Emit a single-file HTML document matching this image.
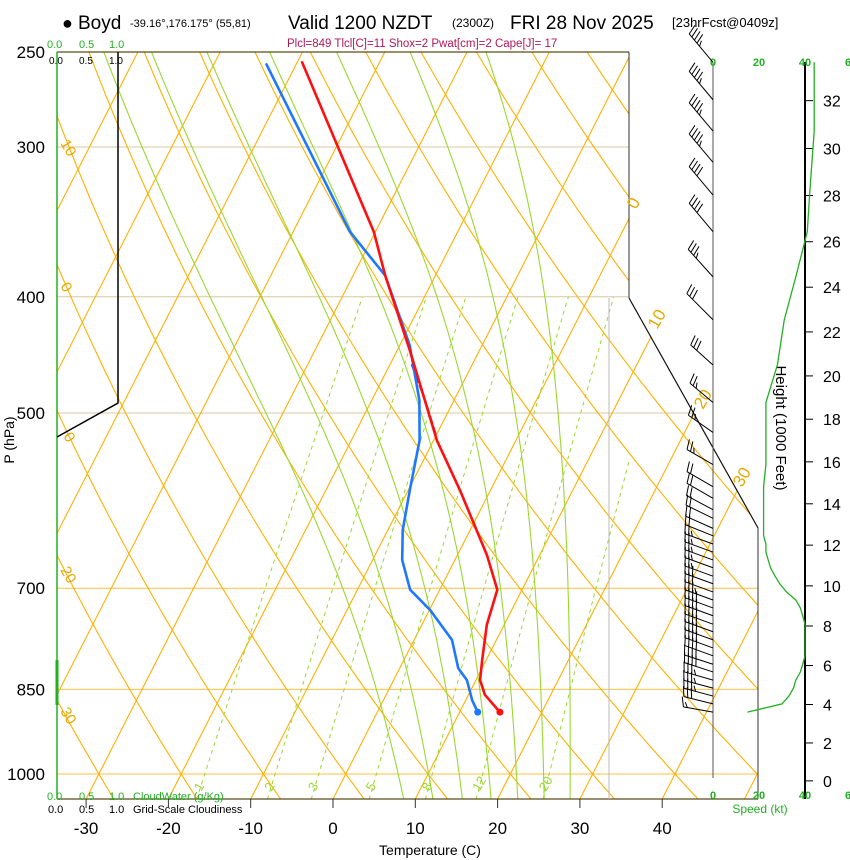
<!DOCTYPE html>
<html><head><meta charset="utf-8">
<style>
body{margin:0;background:#fff;}
svg{display:block;font-family:"Liberation Sans",Arial,sans-serif;}
</style></head>
<body>
<svg id="chart" width="850" height="860" viewBox="0 0 850 860" xmlns="http://www.w3.org/2000/svg">
<defs>
<clipPath id="bg"><polygon points="57,52 629,52 629,298 758,528 758,799 57,799"/></clipPath>
<clipPath id="main"><rect x="57" y="52" width="572" height="747"/></clipPath>
</defs>
<g id="grid" clip-path="url(#bg)"></g>
<g id="mgrid" clip-path="url(#main)"></g>
<g id="frame">
 <line x1="57" y1="52" x2="629" y2="52" stroke="#5a4a1a" stroke-width="1.2"/>
 <line x1="57" y1="799" x2="758" y2="799" stroke="#5a4a1a" stroke-width="1.2"/>
 <line x1="629" y1="52" x2="629" y2="298" stroke="#333" stroke-width="1"/>
 <line x1="629" y1="298" x2="758" y2="528" stroke="#111" stroke-width="1.2"/>
 <line x1="758" y1="528" x2="758" y2="799" stroke="#333" stroke-width="1"/>
 <line x1="57" y1="52" x2="57" y2="799" stroke="#22b022" stroke-width="1.5"/>
 <line x1="57" y1="660" x2="57" y2="705" stroke="#22b022" stroke-width="3"/>
 <polyline points="118,52 118,403 57,437" fill="none" stroke="#000" stroke-width="1.5"/>
 <line x1="713" y1="62" x2="713" y2="778" stroke="#555" stroke-width="1"/>
 <line x1="805" y1="62" x2="805" y2="799" stroke="#000" stroke-width="2"/>
 <line x1="609" y1="298" x2="609" y2="799" stroke="#bbb" stroke-width="1"/>
</g>
<g id="labels">
 <text x="62" y="29" font-size="18">●</text>
 <text x="78" y="29" font-size="19">Boyd</text>
 <text x="130" y="27" font-size="11">-39.16°,176.175° (55,81)</text>
 <text x="288" y="29" font-size="19">Valid 1200 NZDT</text>
 <text x="452" y="27" font-size="12">(2300Z)</text>
 <text x="510" y="29" font-size="19">FRI 28 Nov 2025</text>
 <text x="672" y="27" font-size="13">[23hrFcst@0409z]</text>
 <text x="287" y="47" font-size="11.5" fill="#b0185a">Plcl=849 Tlcl[C]=11 Shox=2 Pwat[cm]=2 Cape[J]= 17</text>
 <g font-size="11" fill="#22b022"><text x="47" y="48">0.0</text><text x="79" y="48">0.5</text><text x="109" y="48">1.0</text></g>
 <g font-size="10" fill="#000"><text x="49" y="64">0.0</text><text x="79" y="64">0.5</text><text x="109" y="64">1.0</text></g>
 <g font-size="11" fill="#22b022"><text x="47" y="800">0.0</text><text x="79" y="800">0.5</text><text x="109" y="800">1.0</text><text x="133" y="800">CloudWater (g/Kg)</text></g>
 <g font-size="11" fill="#000"><text x="48" y="813">0.0</text><text x="79" y="813">0.5</text><text x="109" y="813">1.0</text><text x="133" y="813">Grid-Scale Cloudiness</text></g>
 <text x="430" y="855" font-size="14" text-anchor="middle">Temperature (C)</text>
 <text transform="translate(14,440) rotate(-90)" font-size="14" text-anchor="middle">P (hPa)</text>
 <text transform="translate(776,428) rotate(90)" font-size="15" text-anchor="middle">Height (1000 Feet)</text>
 <text x="760" y="813" font-size="12" fill="#22b022" text-anchor="middle">Speed (kt)</text>
 <g font-size="11" font-weight="bold" fill="#22b022" text-anchor="middle">
  <text x="713" y="66">0</text><text x="759" y="66">20</text><text x="805" y="66">40</text><text x="848" y="66">6</text>
  <text x="713" y="799">0</text><text x="759" y="799">20</text><text x="805" y="799">40</text><text x="848" y="799">6</text>
 </g>
 <g font-size="15" fill="#e6a800">
  <text transform="translate(60,143) rotate(60)">10</text>
  <text transform="translate(60,286) rotate(60)">0</text>
  <text transform="translate(63,436) rotate(60)">0</text>
  <text transform="translate(60,570) rotate(60)">20</text>
  <text transform="translate(60,711) rotate(60)">30</text>
 </g>
 <g font-size="17" fill="#e6a800">
  <text transform="translate(636,210) rotate(-60)">0</text>
  <text transform="translate(657,330) rotate(-60)">10</text>
  <text transform="translate(703,410) rotate(-60)">20</text>
  <text transform="translate(742,488) rotate(-60)">30</text>
 </g>
</g>
<g id="axes"></g>
<g id="profiles"></g>
<g id="winds"></g>
</svg>
<script>
// ---- data ----
const pressureTicks = [250, 300, 400, 500, 700, 850, 1000];
const tempTicks = [-30, -20, -10, 0, 10, 20, 30, 40];
const heightTicks = [0, 2, 4, 6, 8, 10, 12, 14, 16, 18, 20, 22, 24, 26, 28, 30, 32];
const mixRatios = [1, 2, 3, 5, 8, 12, 20];
const moistT488 = [-33.6, -27.5, -21.0, -14.5, -8.5, -2.8, 2.5];
const tempP = [255, 353, 384, 443, 527, 580, 657, 702, 751, 803, 835, 859, 888];
const tempT = [-49.4, -30.2, -26.1, -18.5, -9.6, -3.7, 3.6, 7.0, 7.9, 9.5, 10.5, 12.0, 14.9];
const dewP = [256, 353, 384, 439, 488, 527, 580, 626, 663, 702, 730, 773, 816, 835, 868, 888];
const dewT = [-53.6, -33.1, -26.1, -18.8, -14.2, -11.7, -9.8, -8.2, -6.4, -3.6, 0.1, 4.6, 7.1, 8.9, 10.8, 12.2];
const parcelP = [456, 488, 524];
const parcelT = [-17.3, -13.5, -9.8];
const windP = [255,274,291,309,329,353,385,418,456,490,519,552,576,589,602,612,624,633,643,653,663,673,684,694,705,716,727,738,750,761,773,785,797,810,822,835,848,861,874,888];
const windSpd = [44,44,44,43,42,41,36,31,28,23,23,23,22,22,22,22,22,22,23,23,24,25,27,29,32,36,38,39,40,40,40,40,40,39,38,36,35,33,30,15];
const windDir = [320,320,320,320,320,320,318,315,312,310,305,300,300,300,298,296,294,292,290,290,290,290,290,290,290,290,290,290,290,290,290,290,290,288,288,286,285,285,284,280];

// ---- scales ----
const NS='http://www.w3.org/2000/svg';
function yP(p){return 774-520.8*Math.log(1000/p);}
function xT(T,y){return 333+8.23*T+0.51*(799-y);}
function mk(parent,tag,attrs){const e=document.createElementNS(NS,tag);for(const k in attrs)e.setAttribute(k,attrs[k]);parent.appendChild(e);return e;}
const grid=document.getElementById('grid'), mgrid=document.getElementById('mgrid'), axes=document.getElementById('axes');

pressureTicks.forEach(p=>{
  const y=yP(p);
  const strong = p>=700;
  const l=mk(grid,'line',{x1:57,y1:y,x2:758,y2:y,stroke:strong?'#ffc040':'#d8c8a0','stroke-width':1});
  
  
  const t=mk(axes,'text',{x:45,y:y+6,'font-size':17,'text-anchor':'end'});
  t.textContent=p;
  
  
});
for(let T=-130;T<=60;T+=10){
  const l=mk(grid,'line',{x1:xT(T,799),y1:799,x2:xT(T,52),y2:52,stroke:'#ffb000','stroke-width':1.1});
  
  
}
for(let th=-40;th<=180;th+=10){
  let pts=[];
  for(let p=1060;p>=240;p-=10){const T=(th+273.15)*Math.pow(p/1000,0.286)-273.15;const y=yP(p);pts.push(xT(T,y).toFixed(1)+','+y.toFixed(1));}
  const l=mk(grid,'polyline',{points:pts.join(' '),fill:'none',stroke:'#ffb000','stroke-width':1.1});
  
  
}
function es(T){return 6.112*Math.exp(17.67*T/(T+243.5));}
function rs(T,p){const e=es(T);return 0.622*e/(p-e);}
function dTdp(T,p){const r=rs(T-273.15,p), Lv=2.5e6, Rd=287, cp=1005;return (1/p)*(Rd*T+Lv*r)/(cp+Lv*Lv*r*0.622/(Rd*T*T));}
moistT488.forEach(T0=>{
  let up=[], dn=[];
  let T=T0+273.15, p=488;
  while(p>=240){const y=yP(p);up.push(xT(T-273.15,y).toFixed(1)+','+y.toFixed(1));T-=dTdp(T,p)*4;p-=4;}
  T=T0+273.15; p=488;
  while(p<=1064){T+=dTdp(T,p)*4;p+=4;const y=yP(p);dn.push(xT(T-273.15,y).toFixed(1)+','+y.toFixed(1));}
  const pts=up.reverse().concat(dn);
  const l=mk(mgrid,'polyline',{points:pts.join(' '),fill:'none',stroke:'#9ad830','stroke-width':1.1});
  
  
});
mixRatios.forEach(w=>{
  let pts=[];
  for(let p=1050;p>=400;p-=10){const e=w*p/(622+w);const L=Math.log(e/6.112);const T=243.5*L/(17.67-L);const y=yP(p);pts.push(xT(T,y).toFixed(1)+','+y.toFixed(1));}
  const l=mk(mgrid,'polyline',{points:pts.join(' '),fill:'none',stroke:'#9ad830','stroke-width':1,'stroke-dasharray':'4,4'});
  
  
  const e=w*1010/(622+w);const L=Math.log(e/6.112);const T=243.5*L/(17.67-L);
  const x=xT(T,yP(1010));
  const t=mk(axes,'text',{transform:'translate('+(x-2)+',792) rotate(-60)','font-size':13,fill:'#9ad830'});
  t.textContent=w;
  
  
});
tempTicks.forEach(T=>{
  const x=333+8.23*T;
  mk(axes,'line',{x1:x,y1:799,x2:x,y2:808,stroke:'#333','stroke-width':1});
  const t=mk(axes,'text',{x:x,y:834,'font-size':17,'text-anchor':'middle'});
  t.textContent=T;
  
  
});
heightTicks.forEach(h=>{
  const m=h*304.8;const p=1013.25*Math.pow(1-6.5e-3*m/288.15,5.256);const y=yP(p);
  mk(axes,'line',{x1:805,y1:y,x2:813,y2:y,stroke:'#000','stroke-width':1});
  const t=mk(axes,'text',{x:823,y:y+6,'font-size':16});
  t.textContent=h;
  
  
});
const prof=document.getElementById('profiles');
function line(P,T,attrs,name){
  const pts=P.map((p,i)=>{const y=yP(p);return xT(T[i],y).toFixed(1)+','+y.toFixed(1);}).join(' ');
  const l=mk(prof,'polyline',Object.assign({points:pts,fill:'none','stroke-linejoin':'round','stroke-linecap':'round'},attrs));
  
  
}
line(parcelP,parcelT,{stroke:'#a0206a','stroke-width':2,'stroke-dasharray':'7,4'},'parcel-line');
line(dewP,dewT,{stroke:'#1e78ff','stroke-width':2.6},'dewpoint-line');
line(tempP,tempT,{stroke:'#ff1010','stroke-width':2.6},'temperature-line');
{
  const y=yP(dewP[dewP.length-1]);const c=mk(prof,'circle',{cx:xT(dewT[dewT.length-1],y),cy:y,r:3.5,fill:'#1e78ff'});
  
  
  const y2=yP(tempP[tempP.length-1]);const c2=mk(prof,'circle',{cx:xT(tempT[tempT.length-1],y2),cy:y2,r:3.5,fill:'#ff1010'});
  
  
}
const winds=document.getElementById('winds');
const spd=windP.map((p,i)=>(713+2.3*windSpd[i]).toFixed(1)+','+yP(p).toFixed(1)).join(' ');
const sc=mk(winds,'polyline',{points:spd,fill:'none',stroke:'#22b022','stroke-width':1.3});


windP.forEach((p,i)=>{
  const y=yP(p), d=windDir[i]*Math.PI/180, L=(p<420?37:30);
  const ux=Math.sin(d), uy=-Math.cos(d);
  const tx=713+ux*L, ty=y+uy*L;
  const g=mk(winds,'g',{});
  
  
  mk(g,'line',{x1:713,y1:y,x2:tx,y2:ty,stroke:'#000','stroke-width':1});
  let n=Math.round(windSpd[i]/5), k=0;
  const px=-uy, py=ux;
  while(n>0){
    const bx=tx-ux*k*4, by=ty-uy*k*4;
    const fl=n>=2?10:5;
    mk(g,'line',{x1:bx,y1:by,x2:bx+px*fl+ux*3,y2:by+py*fl+uy*3,stroke:'#000','stroke-width':1});
    n-=2;k++;
  }
});
</script>
</body></html>
